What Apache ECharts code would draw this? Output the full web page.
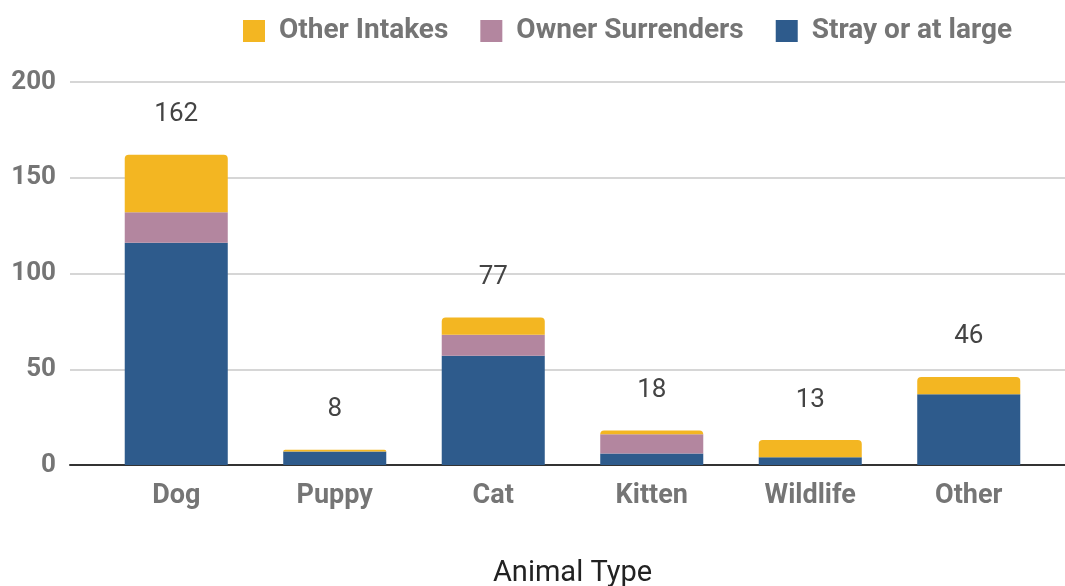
<!DOCTYPE html>
<html><head><meta charset="utf-8">
<script src="https://cdn.jsdelivr.net/npm/echarts@6/dist/echarts.min.js"></script>
<style>html,body{margin:0;padding:0;background:#fff}#c{width:1065px;height:586px}</style>
</head><body><div id="c"></div>
<script>
const categories = ['Dog','Puppy','Cat','Kitten','Wildlife','Other'];
const strayOrAtLarge = [116, 7, 57, 6, 4, 37];
const ownerSurrenders = [16, 0, 11, 10, 0, 0];
const otherIntakes = [30, 1, 9, 2, 9, 9];
const yTicks = [0, 50, 100, 150, 200];
const totals = categories.map((c, i) => strayOrAtLarge[i] + ownerSurrenders[i] + otherIntakes[i]);

const FONT = 'Roboto';
const chart = echarts.init(document.getElementById('c'));
chart.setOption({
  animation: false,
  textStyle: { fontFamily: FONT },
  legend: {
    data: ['Other Intakes', 'Owner Surrenders', 'Stray or at large'],
    left: 238, top: 12,
    icon: 'rect',
    itemWidth: 22, itemHeight: 22, itemGap: 32,
    textStyle: { fontFamily: FONT, fontSize: 28, fontWeight: 'bold', color: '#757575', padding: [0, 0, 0, 9] }
  },
  grid: [
    { left: 70, right: 0, top: 82, bottom: 121, outerBoundsMode: 'none', containLabel: false },
    { left: 97, right: 17, top: 82, bottom: 121, outerBoundsMode: 'none', containLabel: false }
  ],
  xAxis: [
    { gridIndex: 0, type: 'value', min: 0, max: 1, show: true,
      axisLine: { show: true, onZero: true, lineStyle: { color: '#333', width: 2 } },
      axisTick: { show: false }, axisLabel: { show: false }, splitLine: { show: false } },
    { gridIndex: 1, type: 'category', data: categories,
      axisLine: { show: false }, axisTick: { show: false },
      axisLabel: { margin: 18, fontFamily: FONT, fontSize: 27, fontWeight: 'bold', color: '#757575' },
      name: 'Animal Type', nameLocation: 'middle', nameGap: 94,
      nameTextStyle: { fontFamily: FONT, fontSize: 29, color: '#222' } }
  ],
  yAxis: [
    { gridIndex: 0, type: 'value', min: yTicks[0], max: yTicks[yTicks.length - 1], interval: 50,
      axisLine: { show: false }, axisTick: { show: false },
      axisLabel: { margin: 14, fontFamily: FONT, fontSize: 26, fontWeight: 'bold', color: '#757575' },
      splitLine: { lineStyle: { color: '#d6d6d6', width: 2 } } },
    { gridIndex: 1, type: 'value', min: yTicks[0], max: yTicks[yTicks.length - 1], interval: 50, show: false,
      splitLine: { show: false } }
  ],
  series: [
    { name: 'Stray or at large', type: 'bar', stack: 's', xAxisIndex: 1, yAxisIndex: 1,
      data: strayOrAtLarge, barWidth: '65%', itemStyle: { color: '#2E5B8C' } },
    { name: 'Owner Surrenders', type: 'bar', stack: 's', xAxisIndex: 1, yAxisIndex: 1,
      data: ownerSurrenders, itemStyle: { color: '#B3869F' } },
    { name: 'Other Intakes', type: 'bar', stack: 's', xAxisIndex: 1, yAxisIndex: 1,
      data: otherIntakes, itemStyle: { color: '#F3B622', borderRadius: [4, 4, 0, 0] },
      label: { show: true, position: 'top', distance: 27,
        formatter: p => String(totals[p.dataIndex]),
        fontFamily: FONT, fontSize: 26, color: '#444' } }
  ]
});
</script></body></html>
